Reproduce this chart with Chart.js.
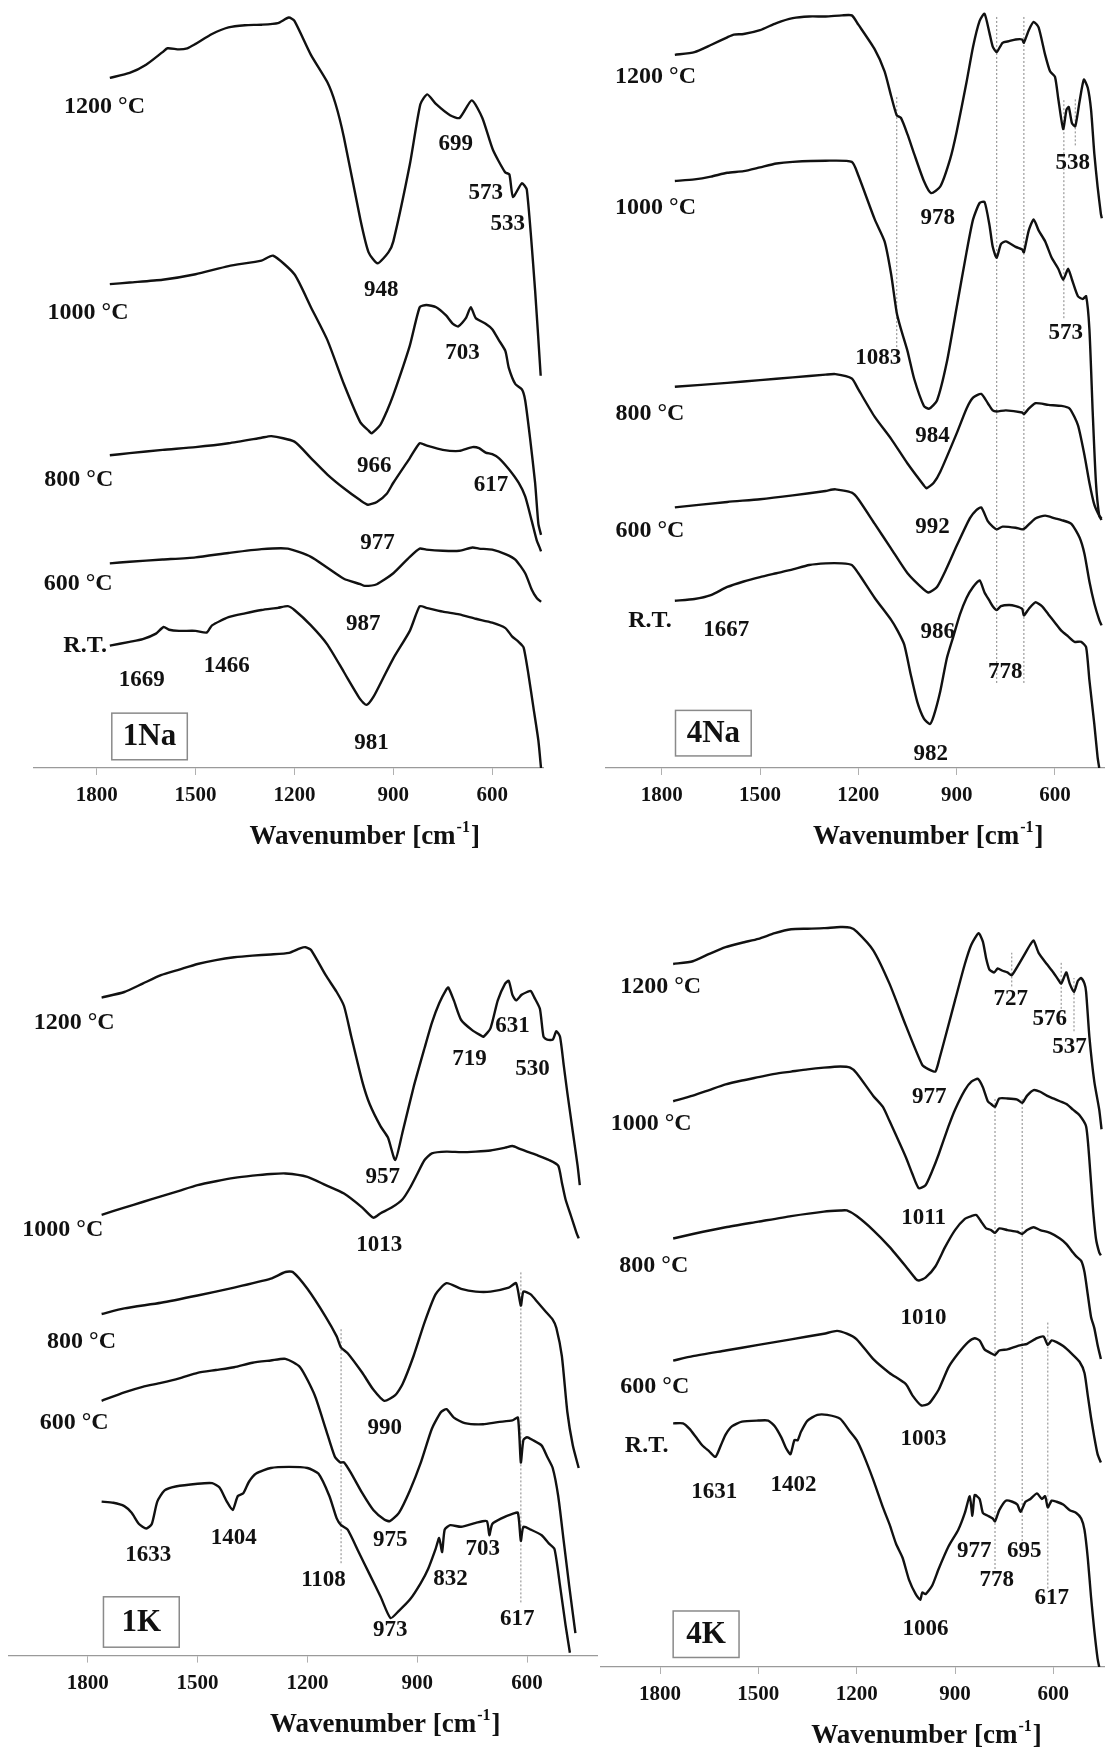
<!DOCTYPE html>
<html>
<head>
<meta charset="utf-8">
<script src="https://cdn.jsdelivr.net/npm/chart.js@4.4.1/dist/chart.umd.min.js"></script>
<style>
  body { margin: 0; background: #fff; }
  #wrap { position: relative; width: 1113px; height: 1758px; background: #fff; }
  canvas { position: absolute; }
</style>
</head>
<body>
<div id="wrap">
  <canvas id="p1na" width="556" height="860" style="left:0;top:0"></canvas>
  <canvas id="p4na" width="557" height="860" style="left:556px;top:0"></canvas>
  <canvas id="p1k" width="600" height="878" style="left:0;top:880px"></canvas>
  <canvas id="p4k" width="557" height="878" style="left:556px;top:880px"></canvas>
</div>
<script>
// x = wavenumber [cm-1], y = transmittance (arbitrary units, curves offset)
const wavenumberTicks = [1800, 1500, 1200, 900, 600];
const tempLabels = ["1200 °C", "1000 °C", "800 °C", "600 °C", "R.T."];

// ---------- 1Na ----------
const na1_1200 = [[1760,1258],[1700,1267],[1650,1282],[1600,1305],[1585,1312],[1550,1310],[1525,1312],[1500,1320],[1450,1338],[1400,1350],[1350,1354],[1300,1355],[1250,1358],[1217,1368],[1200,1362],[1150,1300],[1100,1250],[1075,1210],[1050,1150],[1000,1000],[975,940],[948,920],[915,940],[900,960],[850,1100],[818,1210],[797,1228],[770,1210],[728,1190],[699,1185],[662,1217],[630,1185],[598,1127],[561,1086],[548,1082],[537,1041],[510,1066],[495,1054],[470,871],[453,715]];
const na1_1000 = [[1760,882],[1700,885],[1600,890],[1500,900],[1400,915],[1300,925],[1265,934],[1200,900],[1150,840],[1100,780],[1050,700],[1000,630],[975,615],[966,610],[940,625],[920,650],[900,680],[850,770],[820,840],[800,844],[770,840],[740,825],[720,810],[703,805],[680,820],[665,840],[650,820],[620,810],[600,800],[580,780],[560,760],[550,730],[530,700],[510,690],[500,670],[485,600],[470,520],[460,445],[452,425]];
const na1_800 = [[1760,570],[1700,574],[1600,580],[1500,585],[1400,592],[1300,602],[1270,605],[1200,595],[1150,565],[1100,535],[1050,510],[1000,488],[977,480],[950,485],[920,500],[900,520],[850,565],[820,592],[800,588],[750,580],[700,578],[660,585],[640,583],[620,575],[600,572],[580,565],[550,545],[520,520],[500,495],[480,450],[465,415],[455,400],[452,395]];
const na1_600 = [[1760,373],[1700,376],[1600,380],[1500,384],[1400,392],[1300,399],[1220,400],[1150,385],[1100,365],[1050,345],[1000,335],[987,332],[950,335],[900,355],[850,385],[820,400],[800,398],[750,396],[700,396],[660,402],[640,400],[600,398],[560,390],[530,380],[500,355],[480,325],[465,310],[452,303]];
const na1_rt = [[1760,223],[1700,230],[1660,235],[1620,245],[1597,257],[1580,252],[1550,250],[1500,250],[1466,247],[1450,260],[1400,275],[1350,282],[1300,288],[1250,292],[1220,295],[1200,288],[1150,260],[1100,225],[1050,175],[1000,125],[981,115],[960,130],[930,165],[900,200],[850,250],[820,295],[800,292],[750,285],[700,280],[650,272],[600,265],[560,255],[540,240],[520,230],[505,220],[490,170],[475,110],[460,50],[452,0]];
const na1Temps = [[1776,1205],[1826,830],[1854,525],[1856,335],[1835,222]];
const na1Peaks = [["1669",1663,160],["1466",1405,185],["948",937,872],["699",711,1138],["573",620,1048],["533",553,992],["703",690,757],["966",958,550],["617",604,515],["977",948,410],["987",991,262],["981",966,45]];

// ---------- 4Na ----------
const na4_1200 = [[1760,1300],[1700,1305],[1650,1318],[1600,1332],[1580,1337],[1550,1338],[1500,1345],[1450,1358],[1400,1367],[1350,1370],[1300,1370],[1250,1372],[1220,1372],[1200,1355],[1150,1310],[1120,1270],[1100,1225],[1083,1190],[1070,1185],[1050,1155],[1030,1120],[1000,1070],[978,1048],[950,1060],[920,1110],[900,1160],[870,1250],[850,1315],[830,1362],[815,1375],[800,1340],[790,1315],[778,1305],[760,1322],[740,1325],[720,1328],[700,1328],[695,1322],[680,1345],[665,1360],[650,1350],[630,1300],[615,1270],[600,1260],[590,1220],[575,1165],[565,1200],[558,1205],[548,1175],[538,1170],[525,1215],[512,1255],[500,1240],[490,1200],[480,1120],[470,1060],[460,1010],[457,1002]];
const na4_1000 = [[1760,1070],[1700,1073],[1650,1078],[1600,1085],[1550,1088],[1500,1095],[1450,1102],[1400,1105],[1300,1107],[1220,1105],[1200,1080],[1150,1000],[1120,960],[1100,900],[1083,830],[1070,800],[1050,760],[1030,710],[1000,660],[984,655],[960,670],[930,740],[900,840],[870,940],[850,1000],[830,1030],[815,1032],[800,990],[790,950],[778,930],[765,955],[750,960],[720,950],[700,945],[695,940],[680,980],[665,1000],[650,980],[630,960],[610,930],[590,910],[575,890],[560,910],[548,890],[530,860],[515,855],[505,860],[495,800],[485,650],[475,520],[465,460],[458,452]];
const na4_800 = [[1760,695],[1600,702],[1500,707],[1400,712],[1300,717],[1270,718],[1220,710],[1200,690],[1150,640],[1100,600],[1050,555],[1000,515],[992,510],[970,520],[950,540],[900,610],[870,655],[850,675],[825,682],[805,665],[790,652],[778,650],[750,652],[700,648],[695,645],[680,655],[660,665],[620,662],[580,660],[555,655],[530,625],[510,570],[495,520],[480,480],[465,460],[458,455]];
const na4_600 = [[1760,475],[1600,485],[1500,490],[1400,497],[1300,505],[1270,508],[1220,502],[1200,490],[1150,445],[1100,400],[1050,355],[1000,325],[986,320],[960,330],[930,365],[900,405],[860,455],[840,470],[825,475],[805,450],[790,440],[778,435],[760,440],[720,438],[700,435],[690,438],[660,455],[630,460],[600,455],[580,452],[550,445],[525,420],[510,390],[495,340],[480,300],[465,270],[458,260]];
const na4_rt = [[1760,305],[1700,308],[1650,315],[1600,330],[1550,340],[1500,348],[1450,355],[1400,362],[1350,370],[1300,373],[1250,373],[1220,370],[1200,355],[1150,310],[1100,270],[1080,250],[1060,225],[1040,170],[1020,120],[1000,90],[982,80],[970,95],[950,140],[930,200],[910,240],[890,280],[870,310],[850,330],[830,342],[815,320],[800,305],[790,295],[778,288],[765,295],[740,297],[720,295],[700,290],[695,278],[680,290],[660,302],[640,295],[620,280],[600,265],[580,250],[560,240],[540,230],[520,230],[505,220],[495,160],[480,80],[470,20],[465,0]];
const na4Temps = [[1819,1260],[1819,1022],[1836,645],[1836,432],[1836,268]];
const na4Peaks = [["1667",1603,252],["978",958,1002],["538",546,1102],["1083",1139,748],["573",567,792],["984",974,605],["992",974,440],["986",958,248],["778",752,175],["982",979,25]];
const na4Guides = [[1083,760,1225],[778,155,1370],[695,155,1370],[573,820,1220],[538,1135,1220]];

// ---------- 1K ----------
const k1_1200 = [[1762,1190],[1700,1200],[1650,1215],[1600,1230],[1550,1240],[1500,1250],[1450,1257],[1400,1262],[1350,1265],[1300,1267],[1250,1270],[1220,1278],[1205,1280],[1190,1275],[1150,1230],[1120,1200],[1100,1175],[1080,1120],[1050,1040],[1030,1000],[1000,960],[980,940],[960,900],[940,950],[910,1030],[880,1100],[860,1145],[840,1180],[820,1205],[815,1208],[800,1185],[780,1150],[750,1132],[725,1122],[719,1120],[700,1135],[680,1185],[660,1215],[650,1220],[640,1195],[630,1185],[615,1195],[600,1200],[590,1202],[580,1190],[565,1170],[555,1120],[545,1115],[530,1115],[520,1130],[510,1120],[500,1070],[490,1020],[475,950],[462,890],[456,855]];
const k1_1000 = [[1762,802],[1700,815],[1650,825],[1600,835],[1550,845],[1500,855],[1450,862],[1400,868],[1350,872],[1300,875],[1260,876],[1200,870],[1150,855],[1100,840],[1050,815],[1020,797],[1000,805],[970,815],[940,830],[920,850],[900,875],[880,900],[860,912],[820,915],[780,914],[740,915],[700,917],[660,922],[640,925],[620,920],[600,915],[570,908],[540,900],[515,890],[505,860],[495,830],[480,800],[465,770],[459,760]];
const k1_800 = [[1762,625],[1700,635],[1600,645],[1500,658],[1400,672],[1300,688],[1260,700],[1240,700],[1200,670],[1150,620],[1120,585],[1108,565],[1090,555],[1050,520],[1020,490],[990,470],[960,480],[940,500],[910,550],[880,610],[850,660],[820,680],[780,670],[740,665],[700,665],[650,672],[630,680],[617,640],[610,665],[590,660],[570,645],[550,630],[530,615],[520,600],[505,550],[490,450],[475,390],[459,350]];
const k1_600 = [[1762,470],[1700,485],[1650,495],[1600,502],[1550,510],[1500,520],[1450,525],[1400,530],[1350,538],[1300,542],[1260,545],[1220,530],[1180,480],[1150,420],[1125,370],[1110,360],[1100,360],[1080,340],[1050,305],[1020,275],[990,258],[975,255],[950,270],[920,310],[890,360],[860,420],[835,450],[820,455],[800,440],[770,430],[720,428],[680,432],[640,435],[625,440],[617,360],[610,400],[600,405],[585,400],[560,390],[545,370],[530,350],[515,300],[500,220],[485,140],[468,55]];
const k1_rt = [[1762,290],[1730,288],[1700,282],[1680,270],[1660,250],[1640,242],[1625,250],[1610,290],[1590,310],[1560,317],[1500,322],[1460,323],[1440,315],[1420,290],[1404,275],[1390,300],[1375,305],[1360,325],[1340,340],[1300,350],[1250,352],[1200,350],[1170,340],[1140,300],[1120,260],[1108,248],[1090,240],[1060,200],[1030,160],[1000,120],[973,82],[950,95],[920,115],[890,145],[870,170],[850,205],[840,225],[832,200],[825,240],[810,248],[780,245],[740,252],[710,255],[703,230],[695,250],[670,260],[640,268],[625,270],[617,220],[610,245],[590,240],[560,230],[540,215],[525,205],[510,140],[495,70],[483,20]];
const k1Temps = [[1837,1145],[1868,775],[1817,575],[1837,430]];
const k1Peaks = [["957",994,870],["719",757,1080],["631",640,1140],["530",585,1062],["1013",1004,748],["990",989,422],["1633",1635,195],["1404",1401,225],["975",974,222],["1108",1156,150],["832",809,152],["703",721,205],["973",974,60],["617",627,80]];
const k1Guides = [[1108,180,600],[617,110,700]];

// ---------- 4K ----------
const k4_1200 = [[1760,1250],[1700,1255],[1650,1268],[1600,1280],[1550,1288],[1500,1295],[1450,1305],[1400,1312],[1350,1313],[1300,1314],[1250,1316],[1220,1315],[1200,1308],[1150,1275],[1100,1215],[1050,1140],[1000,1070],[980,1062],[960,1058],[948,1080],[925,1130],[900,1185],[870,1250],[850,1285],[828,1305],[815,1290],[805,1260],[795,1240],[780,1235],[770,1242],[755,1238],[740,1235],[727,1230],[710,1245],[690,1265],[670,1285],[660,1292],[645,1270],[620,1250],[600,1235],[585,1222],[576,1215],[565,1230],[560,1235],[550,1215],[537,1200],[525,1220],[515,1225],[505,1215],[500,1200],[490,1120],[475,1040],[460,990],[453,955]];
const k4_1000 = [[1760,1005],[1700,1015],[1650,1025],[1600,1035],[1550,1042],[1500,1048],[1450,1054],[1400,1058],[1350,1062],[1300,1065],[1250,1067],[1220,1065],[1200,1055],[1150,1015],[1120,995],[1100,970],[1050,905],[1030,875],[1011,850],[990,855],[970,880],[950,910],[920,960],[900,990],[870,1025],[850,1040],[830,1045],[815,1030],[800,1005],[790,1000],[778,995],[765,1010],[740,1010],[710,1008],[695,1002],[680,1015],[660,1025],[640,1022],[620,1015],[600,1010],[580,1005],[560,1000],[540,990],[520,980],[500,960],[490,900],[480,820],[470,760],[460,735],[455,730]];
const k4_800 = [[1760,760],[1700,768],[1600,780],[1500,790],[1400,800],[1300,808],[1250,810],[1230,810],[1200,800],[1150,775],[1100,745],[1050,710],[1020,688],[1010,685],[990,690],[960,710],[930,745],[900,775],[870,795],[850,800],[835,802],[820,790],[805,778],[790,775],[778,770],[765,778],[740,775],[710,772],[695,768],[680,775],[660,780],[640,775],[610,770],[580,760],[560,750],[540,735],[530,728],[515,720],[505,700],[495,660],[485,620],[475,600],[465,570],[455,545]];
const k4_600 = [[1760,542],[1700,550],[1600,560],[1500,570],[1400,580],[1300,590],[1260,595],[1230,590],[1200,580],[1150,545],[1100,520],[1050,500],[1030,480],[1003,462],[980,465],[950,490],[920,530],[890,555],[860,575],[840,582],[825,578],[810,562],[790,555],[778,552],[765,560],[740,562],[710,568],[695,570],[680,572],[650,582],[630,585],[617,570],[605,578],[590,575],[570,568],[545,555],[520,540],[505,520],[495,480],[485,440],[475,405],[465,375],[455,360]];
const k4_rt = [[1760,430],[1730,430],[1710,420],[1690,405],[1670,390],[1650,380],[1631,370],[1615,390],[1600,410],[1580,425],[1550,433],[1500,435],[1470,435],[1450,425],[1430,405],[1415,385],[1402,375],[1390,400],[1380,400],[1370,415],[1350,435],[1320,445],[1290,445],[1250,438],[1220,415],[1200,400],[1180,375],[1150,330],[1120,280],[1100,250],[1080,215],[1060,190],[1040,150],[1020,125],[1006,115],[1000,128],[990,125],[970,140],[950,170],[920,210],[890,240],[870,270],[855,300],[847,265],[840,302],[825,295],[815,270],[800,265],[785,260],[778,255],[765,275],[745,292],[725,290],[710,285],[700,272],[685,290],[670,295],[650,305],[635,295],[625,300],[617,280],[605,292],[590,290],[570,285],[550,275],[530,270],[515,260],[505,240],[495,190],[485,120],[475,60],[465,10],[460,-5]];
const k4Temps = [[1798,1210],[1827,965],[1819,712],[1816,495],[1841,390]];
const k4Peaks = [["727",730,1188],["576",611,1152],["537",551,1102],["977",979,1012],["1011",996,797],["1010",996,618],["1003",996,402],["1631",1635,308],["1402",1393,320],["977",841,202],["778",773,150],["695",689,202],["617",605,118],["1006",990,62]];
const k4Guides = [[727,1210,1270],[576,1170,1255],[537,1130,1225],[778,170,1010],[695,220,1010],[617,135,610]];

const SERIF = "'Liberation Serif', 'Times New Roman', serif";

function labelPlugin(p) {
  return {
    id: "annot_" + p.id,
    afterDraw(chart) {
      const ctx = chart.ctx;
      const xs = chart.scales.x, ys = chart.scales.y;
      ctx.save();
      ctx.fillStyle = "#111";
      ctx.textAlign = "center";
      ctx.textBaseline = "middle";
      ctx.font = "bold 24px " + SERIF;
      p.temps.forEach(([x, y], i) => {
        ctx.fillText(tempLabels[i], xs.getPixelForValue(x), ys.getPixelForValue(y));
      });
      ctx.font = "bold 23px " + SERIF;
      p.peaks.forEach(([t, x, y]) => {
        ctx.fillText(t, xs.getPixelForValue(x), ys.getPixelForValue(y));
      });
      // sample name box
      const b = p.box;
      const bx0 = xs.getPixelForValue(b.x0), bx1 = xs.getPixelForValue(b.x1);
      const by0 = ys.getPixelForValue(b.y0), by1 = ys.getPixelForValue(b.y1);
      ctx.fillStyle = "#fff";
      ctx.fillRect(bx0, by0, bx1 - bx0, by1 - by0);
      ctx.strokeStyle = "#8a8a8a";
      ctx.lineWidth = 1.5;
      ctx.strokeRect(bx0, by0, bx1 - bx0, by1 - by0);
      ctx.fillStyle = "#111";
      ctx.font = "bold 31px " + SERIF;
      ctx.fillText(b.text, (bx0 + bx1) / 2, (by0 + by1) / 2 + 1);
      // axis title with superscript
      const tx = xs.getPixelForValue(990), ty = chart.chartArea.bottom + 69;
      const main = "Wavenumber [cm", sup = "-1", end = "]";
      ctx.font = "bold 27px " + SERIF;
      const wMain = ctx.measureText(main).width, wEnd = ctx.measureText(end).width;
      ctx.font = "bold 16px " + SERIF;
      const wSup = ctx.measureText(sup).width;
      let x0 = tx - (wMain + wSup + wEnd) / 2;
      ctx.textAlign = "left";
      ctx.font = "bold 27px " + SERIF;
      ctx.fillText(main, x0, ty);
      ctx.font = "bold 16px " + SERIF;
      ctx.fillText(sup, x0 + wMain + 1, ty - 9);
      ctx.font = "bold 27px " + SERIF;
      ctx.fillText(end, x0 + wMain + wSup + 2, ty);
      ctx.restore();
    }
  };
}

function makePanel(p) {
  const canvas = document.getElementById(p.id);
  const H = canvas.height;
  const datasets = p.curves.map(c => ({
    data: c.map(([x, y]) => ({ x, y })),
    borderColor: "#111",
    borderWidth: 2.4,
    pointRadius: 0,
    tension: 0.2,
    fill: false
  }));
  (p.guides || []).forEach(([x, y0, y1]) => datasets.push({
    data: [{ x, y: y0 }, { x, y: y1 }],
    borderColor: "#9a9a9a",
    borderWidth: 1.2,
    borderDash: [2, 2],
    pointRadius: 0,
    fill: false
  }));
  new Chart(canvas, {
    type: "line",
    data: { datasets },
    options: {
      responsive: false,
      animation: false,
      devicePixelRatio: 1,
      layout: { padding: { left: p.left, right: p.right, top: 0, bottom: 0 } },
      plugins: { legend: { display: false }, tooltip: { enabled: false } },
      scales: {
        x: {
          type: "linear",
          reverse: true,
          min: p.xmin,
          max: p.xmax,
          afterBuildTicks: s => { s.ticks = wavenumberTicks.map(value => ({ value })); },
          afterFit: s => { s.height = H - p.bottom; },
          ticks: {
            autoSkip: false,
            maxRotation: 0,
            padding: 8,
            color: "#111",
            font: { family: SERIF, size: 21, weight: "bold" },
            callback: value => String(value)
          },
          grid: { display: true, drawOnChartArea: false, drawTicks: true, tickLength: 7, color: "#b0b0b0" },
          border: { display: true, color: "#9a9a9a", width: 1.3 }
        },
        y: { display: false, min: p.ymin, max: 1400 }
      }
    },
    plugins: [labelPlugin(p)]
  });
}

makePanel({
  id: "p1na", left: 34, right: 13, bottom: 768, xmin: 446, xmax: 1990, ymin: 0,
  curves: [na1_1200, na1_1000, na1_800, na1_600, na1_rt],
  temps: na1Temps, peaks: na1Peaks,
  box: { text: "1Na", x0: 1754, x1: 1525, y0: 100, y1: 15 }
});
makePanel({
  id: "p4na", left: 49.7, right: 8.2, bottom: 768, xmin: 448, xmax: 1971, ymin: 0,
  curves: [na4_1200, na4_1000, na4_800, na4_600, na4_rt],
  guides: na4Guides, temps: na4Temps, peaks: na4Peaks,
  box: { text: "4Na", x0: 1758, x1: 1527, y0: 105, y1: 22 }
});
makePanel({
  id: "p1k", left: 9, right: 3, bottom: 775.6, xmin: 409, xmax: 2015, ymin: 15,
  curves: [k1_1200, k1_1000, k1_800, k1_600, k1_rt],
  guides: k1Guides, temps: k1Temps, peaks: k1Peaks,
  box: { text: "1K", x0: 1757, x1: 1550, y0: 120, y1: 30 }
});
makePanel({
  id: "p4k", left: 44.4, right: 8.2, bottom: 787, xmin: 443, xmax: 1982, ymin: -5,
  curves: [k4_1200, k4_1000, k4_800, k4_600, k4_rt],
  guides: k4Guides, temps: k4Temps, peaks: k4Peaks,
  box: { text: "4K", x0: 1760, x1: 1559, y0: 95, y1: 12 }
});
</script>
</body>
</html>
